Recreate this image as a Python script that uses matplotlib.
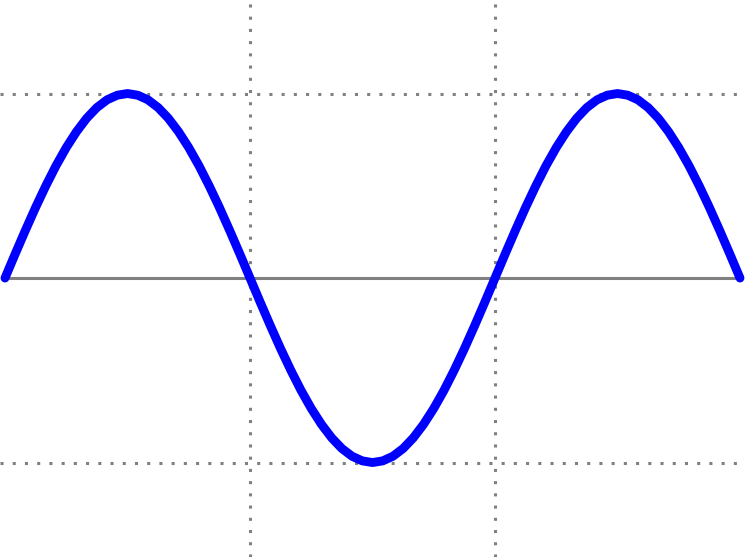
import numpy as np
import matplotlib.pyplot as plt

# sample points of the wave (x in radians, 0 .. 3*pi)
x_steps = list(range(0, 73))          # multiples of pi/24
wave = [0.000, 0.131, 0.259, 0.383, 0.500, 0.609, 0.707, 0.793, 0.866, 0.924, 0.966, 0.991,
        1.000, 0.991, 0.966, 0.924, 0.866, 0.793, 0.707, 0.609, 0.500, 0.383, 0.259, 0.131,
        0.000, -0.131, -0.259, -0.383, -0.500, -0.609, -0.707, -0.793, -0.866, -0.924, -0.966, -0.991,
        -1.000, -0.991, -0.966, -0.924, -0.866, -0.793, -0.707, -0.609, -0.500, -0.383, -0.259, -0.131,
        0.000, 0.131, 0.259, 0.383, 0.500, 0.609, 0.707, 0.793, 0.866, 0.924, 0.966, 0.991,
        1.000, 0.991, 0.966, 0.924, 0.866, 0.793, 0.707, 0.609, 0.500, 0.383, 0.259, 0.131,
        0.000]
grid_x = [np.pi, 2 * np.pi]
grid_y = [1.0, -1.0]

x = np.array(x_steps) * np.pi / 24

fig = plt.figure(figsize=(7.45, 5.57), dpi=100)
ax = fig.add_axes([0, 0, 1, 1])
ax.axis('off')

for gx in grid_x:
    ax.axvline(gx, color='#808080', lw=2.2, dashes=(1, 3), dash_capstyle='butt', zorder=1)
for gy in grid_y:
    ax.axhline(gy, color='#808080', lw=2.2, dashes=(1, 3), dash_capstyle='butt', zorder=1)

ax.plot([x[0], x[-1]], [0, 0], color='#808080', lw=2.2, solid_capstyle='butt', zorder=2)
ax.plot(x, wave, color='#0000ff', lw=6.4, solid_capstyle='round', solid_joinstyle='round', zorder=3)

ax.set_xlim(-5 / 78.0, 3 * np.pi + 5 / 78.0)
ax.set_ylim(-1.512, 1.507)

fig.savefig('out.png', dpi=100)
